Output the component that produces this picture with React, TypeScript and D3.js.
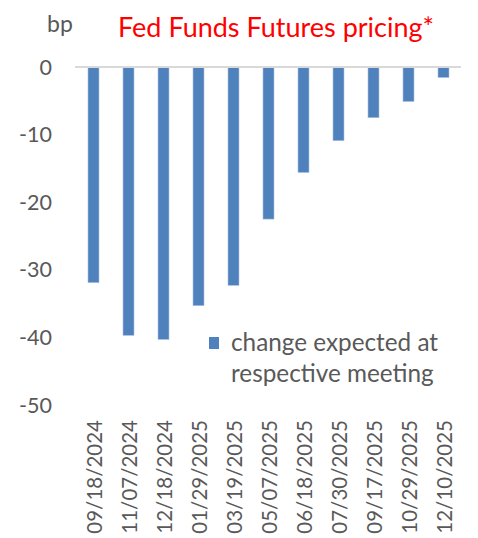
import React from "react";
import * as d3 from "d3";

const meetings = [
  "09/18/2024", "11/07/2024", "12/18/2024", "01/29/2025", "03/19/2025", "05/07/2025",
  "06/18/2025", "07/30/2025", "09/17/2025", "10/29/2025", "12/10/2025",
];
const changeBp = [-31.9, -39.7, -40.3, -35.3, -32.3, -22.5, -15.6, -10.9, -7.5, -5.1, -1.55];
const yTicks = [0, -10, -20, -30, -40, -50];
const titleText = "Fed Funds Futures pricing*";
const unitLabel = "bp";
const legendLines = ["change expected at", "respective meeting"];

const W = 478;
const H = 538;
const FONT = "Lato, 'Noto Sans', sans-serif";
const GRAY = "#595959";
const BAR = "#4F81BD";

export default function App() {
  const x = d3.scaleBand<string>().domain(meetings).range([76, 461]).paddingInner(0.686).paddingOuter(0.343);
  const y = d3.scaleLinear().domain([-50, 0]).range([405, 67]);

  return (
    <div style={{ position: "absolute", left: 0, top: 0 }}>
      <svg width={W} height={H} style={{ display: "block", background: "#fff" }}>
        <text x={47} y={32} fontFamily={FONT} fontSize={23} fill={GRAY}>{unitLabel}</text>
        <text x={118} y={37} fontFamily={FONT} fontSize={27} fill="#FF0000" textLength={316} lengthAdjust="spacing">{titleText}</text>
        {yTicks.map((t) => (
          <text key={t} x={52} y={y(t)} dy="0.35em" textAnchor="end" fontFamily={FONT} fontSize={21.5} fill={GRAY}>
            {t}
          </text>
        ))}
        {meetings.map((m, i) => {
          const v = changeBp[i];
          return (
            <rect
              key={m}
              x={x(m)}
              y={y(0)}
              width={x.bandwidth()}
              height={y(v) - y(0)}
              fill={BAR}
              stroke="#a9c0dd"
              strokeWidth={0.6}
            />
          );
        })}
        <line x1={75} x2={461} y1={y(0)} y2={y(0)} stroke="#D9D9D9" strokeWidth={2} />
        {meetings.map((m) => {
          const cx = (x(m) as number) + x.bandwidth() / 2 + 1.5;
          return (
            <text
              key={"l" + m}
              transform={`translate(${cx},420) rotate(-90)`}
              textAnchor="end"
              dy="0.35em"
              fontFamily={FONT}
              fontSize={20.5}
              fill={GRAY}
            >
              {m}
            </text>
          );
        })}
        <rect x={209} y={337} width={10} height={12} fill={BAR} />
        {legendLines.map((l, i) => (
          <text key={l} x={231} y={351 + i * 31} fontFamily={FONT} fontSize={24.3} fill={GRAY}>
            {l}
          </text>
        ))}
      </svg>
    </div>
  );
}
